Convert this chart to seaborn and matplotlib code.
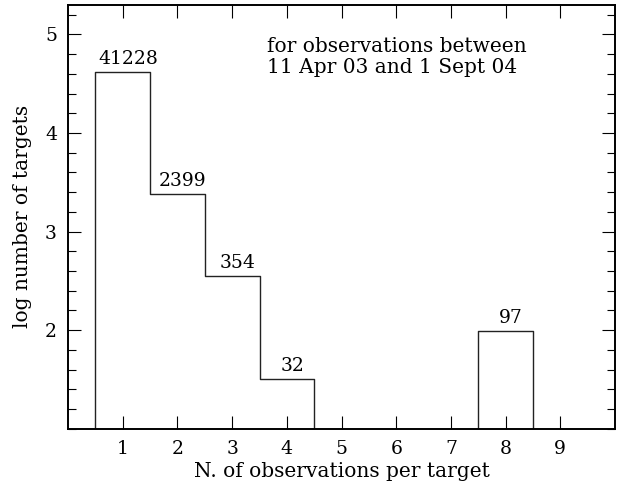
import numpy as np
import pandas as pd
import matplotlib
matplotlib.use("Agg")
import matplotlib.pyplot as plt
import seaborn as sns
from matplotlib.ticker import MultipleLocator

# Number of observations per target and how many targets had that many
n_obs = [0, 1, 2, 3, 4, 5, 6, 7, 8, 9]
n_targets = [0, 41228, 2399, 354, 32, 0, 0, 0, 97, 0]
x_ticks = [1, 2, 3, 4, 5, 6, 7, 8, 9]
y_ticks = [2, 3, 4, 5]
note_lines = ["for observations between", "11 Apr 03 and 1 Sept 04"]

counts = np.array(n_targets, dtype=float)
log_targets = np.where(counts > 0, np.log10(np.where(counts > 0, counts, 1)), 0.0)
df = pd.DataFrame({"n": n_obs, "logn": log_targets})

sns.set_theme(style="ticks")
plt.rcParams["font.family"] = ["DejaVu Serif"]
plt.rcParams["font.size"] = 13
plt.rcParams["text.color"] = "black"
plt.rcParams["axes.labelcolor"] = "black"
plt.rcParams["xtick.color"] = "black"
plt.rcParams["ytick.color"] = "black"

fig = plt.figure(figsize=(6.19, 4.83), dpi=100)
ax = fig.add_axes([0.110, 0.1124, 0.8835, 0.8776])

sns.histplot(data=df, x="n", weights="logn", discrete=True,
             element="step", fill=False, color="#222222", linewidth=1.0, ax=ax)

# Count labels above each non-empty bin
for n, c, lv in zip(n_obs, n_targets, log_targets):
    if c > 0:
        ax.text(n + 0.1, lv + 0.085, str(c), ha="center", va="baseline",
                fontsize=13.5, color="black")

ax.text(3.64, 4.823, note_lines[0], ha="left", va="baseline", fontsize=14.5)
ax.text(3.64, 4.61, note_lines[1], ha="left", va="baseline", fontsize=14.5)

ax.set_xlim(0, 10)
ax.set_ylim(1, 5.3)
ax.set_xticks(x_ticks)
ax.set_yticks(y_ticks)
ax.yaxis.set_minor_locator(MultipleLocator(0.2))
ax.tick_params(axis="both", which="major", direction="in", length=9.5, width=0.8,
               top=True, right=True, labelsize=13.5, color="black",
               labelcolor="black", pad=8)
ax.tick_params(axis="y", which="minor", direction="in", length=5.5, width=0.8,
               left=True, right=True, color="black")
for s in ax.spines.values():
    s.set_linewidth(1.4)
    s.set_color("black")

ax.set_xlabel("N. of observations per target", fontsize=14.5, labelpad=3)
ax.set_ylabel("log number of targets", fontsize=14.5, labelpad=9)

fig.savefig("out.png", dpi=100)
